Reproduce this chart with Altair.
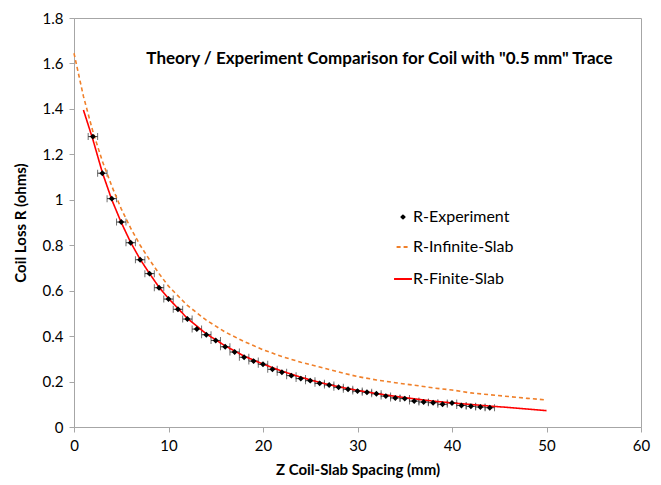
import altair as alt
import pandas as pd

# Experimental data (z in mm, R in ohms)
exp_z = list(range(2, 45))
exp_r = [1.278, 1.117, 1.005, 0.902, 0.811, 0.736, 0.675, 0.613, 0.563, 0.518,
         0.475, 0.431, 0.406, 0.381, 0.353, 0.330, 0.307, 0.290, 0.276, 0.254,
         0.241, 0.226, 0.213, 0.204, 0.192, 0.185, 0.175, 0.166, 0.158, 0.153,
         0.146, 0.136, 0.128, 0.125, 0.114, 0.110, 0.107, 0.100, 0.106, 0.095,
         0.091, 0.088, 0.085]
exp_zerr = 0.5

# Infinite slab theory
inf_z = [0, 1, 2, 3, 4, 5, 6, 7, 8, 9, 10, 12, 14, 16, 18, 20, 22, 24, 26, 28,
         30, 32, 34, 36, 38, 40, 42, 44, 46, 48, 50]
inf_r = [1.645, 1.455, 1.30, 1.17, 1.06, 0.96, 0.875, 0.80, 0.735, 0.675, 0.62,
         0.535, 0.47, 0.418, 0.376, 0.34, 0.31, 0.285, 0.264, 0.242, 0.222,
         0.207, 0.195, 0.184, 0.172, 0.163, 0.150, 0.142, 0.134, 0.126, 0.119]

# Finite slab theory
fin_z = [1, 2, 3, 4, 5, 6, 7, 8, 9, 10, 12, 14, 16, 18, 20, 22, 24, 26, 28, 30,
         32, 34, 36, 38, 40, 42, 44, 46, 48, 50]
fin_r = [1.395, 1.265, 1.12, 1.0, 0.9, 0.812, 0.738, 0.675, 0.615, 0.566, 0.478,
         0.41, 0.357, 0.312, 0.277, 0.246, 0.219, 0.196, 0.177, 0.161, 0.147,
         0.135, 0.124, 0.114, 0.106, 0.099, 0.092, 0.086, 0.079, 0.072]

series_names = ["R-Experiment", "R-Infinite-Slab", "R-Finite-Slab"]
series_colors = ["#000000", "#F0802A", "#FF0000"]

title_text = 'Theory / Experiment Comparison for Coil with "0.5 mm" Trace'

FONT = "Lato"

exp_df = pd.DataFrame({"z": exp_z, "r": exp_r, "series": series_names[0]})
exp_df["zlo"] = exp_df["z"] - exp_zerr
exp_df["zhi"] = exp_df["z"] + exp_zerr

lines_df = pd.concat([
    pd.DataFrame({"z": inf_z, "r": inf_r, "series": series_names[1]}),
    pd.DataFrame({"z": fin_z, "r": fin_r, "series": series_names[2]}),
])

xscale = alt.Scale(domain=[0, 60], nice=False)
yscale = alt.Scale(domain=[0, 1.8], nice=False)

xaxis = alt.Axis(values=list(range(0, 61, 10)), title="Z Coil-Slab Spacing (mm)",
                 grid=False, format="d", labelFlush=False)
yaxis = alt.Axis(values=[round(0.2 * i, 1) for i in range(10)], title="Coil Loss R (ohms)",
                 grid=False, format=".1~f", labelFlush=False)

color_scale = alt.Scale(domain=series_names, range=series_colors)
dash_scale = alt.Scale(domain=series_names, range=[[1, 0], [4, 3], [1, 0]])
shape_scale = alt.Scale(domain=series_names, range=["diamond", "stroke", "stroke"])
size_scale = alt.Scale(domain=series_names, range=[8, 320, 320])

legend = alt.Legend(title=None, orient="none", legendX=319, legendY=191,
                    labelFont=FONT, labelFontSize=16, labelColor="#000",
                    rowPadding=14, symbolStrokeWidth=2, labelOffset=0)

errbars = alt.Chart(exp_df).mark_errorbar(ticks=alt.TickConfig(size=7, thickness=1, color="#333"),
                                           color="#333", thickness=1).encode(
    x=alt.X("zlo:Q", scale=xscale, axis=xaxis, title="Z Coil-Slab Spacing (mm)"),
    x2="zhi:Q",
    y=alt.Y("r:Q", scale=yscale, axis=yaxis, title="Coil Loss R (ohms)"),
)

lines = alt.Chart(lines_df).mark_line(strokeWidth=1.6).encode(
    x=alt.X("z:Q", scale=xscale, axis=xaxis),
    y=alt.Y("r:Q", scale=yscale, axis=yaxis),
    color=alt.Color("series:N", scale=color_scale, legend=legend),
    strokeDash=alt.StrokeDash("series:N", scale=dash_scale, legend=legend),
    detail="series:N",
)

points = alt.Chart(exp_df).mark_point(filled=False, strokeWidth=2.2, opacity=1).encode(
    x=alt.X("z:Q", scale=xscale, axis=xaxis),
    y=alt.Y("r:Q", scale=yscale, axis=yaxis),
    color=alt.Color("series:N", scale=color_scale, legend=legend),
    shape=alt.Shape("series:N", scale=shape_scale, legend=legend),
    size=alt.Size("series:N", scale=size_scale, legend=legend),
)

chart = alt.layer(errbars, lines, points).properties(
    width=567, height=409,
    padding={"left": 74, "top": 18, "right": 20, "bottom": 58},
    autosize=alt.AutoSizeParams(type="none"),
    background="white",
    title=alt.Title(title_text, font=FONT, fontSize=17, fontWeight="bold",
                    color="#000", anchor="middle", dx=22, dy=17, offset=-40),
).configure_view(
    stroke="#A6A6A6", strokeWidth=1,
).configure_axis(
    domainColor="#A6A6A6", tickColor="#A6A6A6", tickSize=5,
    labelFont=FONT, labelFontSize=15, labelColor="#000",
    titleFont=FONT, titleFontSize=15, titleFontWeight="bold", titleColor="#000",
).configure_axisX(
    labelPadding=6, titlePadding=9,
).configure_axisY(
    labelPadding=6, titlePadding=14,
)

chart.save("out.html", embed_options={"renderer": "svg", "actions": False})
